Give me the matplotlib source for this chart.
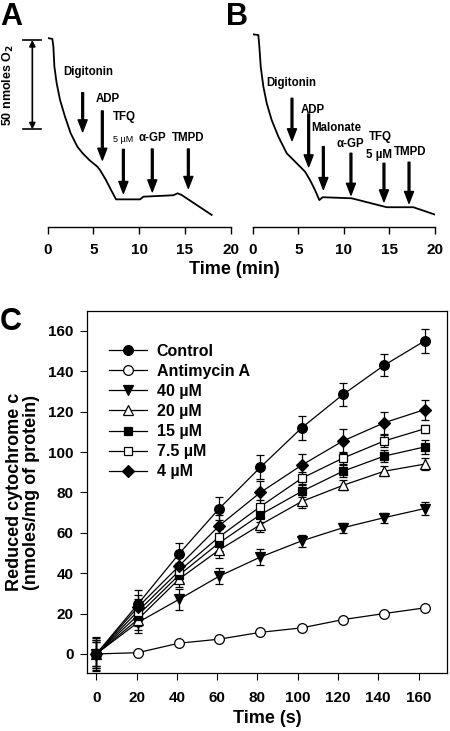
import numpy as np
import matplotlib
matplotlib.use("Agg")
import matplotlib.pyplot as plt
from matplotlib.lines import Line2D

plt.rcParams['font.family'] = ['Liberation Sans', 'DejaVu Sans']
plt.rcParams['font.weight'] = 'bold'

# ---- panel A: oxygen trace (min, nmol O2) ----
tA = [0, 0.51, 0.62, 0.73, 0.98, 1.35, 1.89, 2.51, 3.24, 3.82, 4.55, 5.43, 5.72,
      6.37, 6.93, 7.47, 10.09, 10.45, 13.73, 14.2, 14.65, 17.92]
o2A = [105.6, 105.1, 100.8, 89.6, 80.3, 70.9, 61.6, 52.3, 44.8, 41.1, 37.3, 33.6, 31.7,
       26.1, 20.5, 15.3, 15.3, 16.8, 17.6, 18.7, 17.7, 6.6]
# additions: label, time, arrow top, arrow bottom
addA = [("Digitonin", 3.82, 75.0, 53.2),
        ("ADP", 5.97, 64.8, 37.3),
        ("TFQ", 8.27, 43.3, 18.7),
        ("\u03b1-GP", 11.43, 43.5, 19.6),
        ("TMPD", 15.37, 43.5, 21.5)]

# ---- panel B ----
tB = [0, 0.62, 0.73, 0.88, 1.17, 1.54, 2.08, 2.82, 3.73, 4.83, 5.74, 6.29, 6.84,
      7.31, 7.68, 10.86, 14.7, 17.62, 20.1]
o2B = [107.7, 107.3, 100.8, 89.6, 78.4, 69.1, 59.7, 50.4, 41.1, 35.5, 30.8, 26.1, 20.5,
       14.9, 16.5, 15.9, 10.9, 10.9, 6.6]
addB = [("Digitonin", 4.31, 71.9, 48.2),
        ("ADP", 6.14, 63.1, 33.6),
        ("Malonate", 7.75, 44.8, 20.9),
        ("\u03b1-GP", 10.78, 41.1, 17.7),
        ("TFQ", 14.4, 35.5, 14.0),
        ("TMPD", 17.15, 36.1, 13.1)]

# ---- panel C: reduced cytochrome c ----
time_s = [0, 20.5, 41, 61, 81.5, 102, 122.5, 143, 163]
series = ["Control", "Antimycin A", "40 \u00b5M", "20 \u00b5M", "15 \u00b5M", "7.5 \u00b5M", "4 \u00b5M"]
control = [0, 24.5, 49.5, 72, 92.5, 112, 128.5, 143, 155]
control_err = [8.5, 7, 5.5, 5.5, 6, 6, 5.5, 5.5, 6]
antimycin = [0, 0.6, 5.3, 7.3, 10.7, 12.9, 17, 20, 22.8]
antimycin_err = [1, 0.5, 0.5, 0.5, 0.5, 0.5, 0.5, 0.5, 0.5]
tfq40 = [0, 15.5, 27, 38.5, 48, 56, 62.5, 67.5, 72]
tfq40_err = [7, 5, 5, 4, 4, 3, 2.5, 2.5, 3]
tfq20 = [0, 17, 37, 51.5, 64, 75.5, 83.5, 90.5, 94]
tfq20_err = [6, 5, 4, 4, 3.5, 3, 2.5, 2.5, 3]
tfq15 = [0, 19, 39, 55, 69, 80.5, 90.5, 98, 102.5]
tfq15_err = [6, 5, 4, 4, 3.5, 3, 3, 3, 3.5]
tfq75 = [0, 21, 41, 58, 73, 87, 97, 105.5, 111.5]
tfq75_err = [7, 6, 4, 4, 3, 3, 3, 3, 2]
tfq4 = [0, 23, 43.5, 63.5, 80, 93.5, 105.5, 114.5, 121]
tfq4_err = [8, 6, 5, 5.5, 5.5, 5.5, 6, 5.5, 5]

W, H = 450, 731
fig = plt.figure(figsize=(W / 100, H / 100), dpi=100)


def px_axes(x0, y0, x1, y1):
    return fig.add_axes([x0 / W, 1 - y1 / H, (x1 - x0) / W, (y1 - y0) / H])


def trace_panel(ax, t, o2, adds):
    ax.plot(t, o2, color='k', lw=1.3)
    for name, tt, ytop, ybot in adds:
        ax.annotate('', xy=(tt, ybot), xytext=(tt, ytop),
                    arrowprops=dict(width=1.3, headwidth=6.5, headlength=8.5,
                                    shrink=0, color='k'))
    ax.set_xlim(0, 20)
    ax.set_ylim(0, 110.1)
    for s in ['left', 'right', 'top']:
        ax.spines[s].set_visible(False)
    ax.spines['bottom'].set_linewidth(1.0)
    ax.set_yticks([])
    ax.set_xticks([0, 5, 10, 15, 20])
    ax.tick_params(axis='x', direction='out', length=5, width=1.0, pad=7, labelsize=11)


axA = px_axes(47.7, 30, 230.7, 226.7)
trace_panel(axA, tA, o2A, addA)
axB = px_axes(252.7, 30, 435, 226.7)
trace_panel(axB, tB, o2B, addB)

lab_kw = dict(ha='center', va='center', fontsize=8.3, fontweight='bold')
axA.text(4.44, 86.8, "Digitonin", **lab_kw)
axA.text(6.62, 71.5, "ADP", **lab_kw)
axA.text(8.34, 61.3, "TFQ", **lab_kw)
axA.text(8.26, 48.8, "5 \u00b5M", ha='center', va='center', fontsize=6.5, fontweight='normal')
axA.text(11.4, 49.8, "\u03b1-GP", **lab_kw)
axA.text(15.37, 49.8, "TMPD", **lab_kw)

axB.text(4.2, 80.3, "Digitonin", **lab_kw)
axB.text(6.58, 65.3, "ADP", **lab_kw)
axB.text(9.22, 55.4, "Malonate", **lab_kw)
axB.text(10.75, 46.3, "\u03b1-GP", **lab_kw)
axB.text(14.04, 50.1, "TFQ", **lab_kw)
axB.text(13.86, 40.1, "5 \u00b5M", **lab_kw)
axB.text(17.26, 42.0, "TMPD", **lab_kw)

# 50 nmol scale bar
axA.annotate('', xy=(-1.68, 54.5), xytext=(-1.68, 104.5), annotation_clip=False,
             arrowprops=dict(arrowstyle='<|-|>', color='k', lw=1.2, mutation_scale=9,
                             shrinkA=0, shrinkB=0))
axA.plot([-2.73, -0.77], [104.5, 104.5], color='k', lw=1.2, clip_on=False)
axA.plot([-2.73, -0.77], [54.5, 54.5], color='k', lw=1.2, clip_on=False)
fig.text(8 / W, 1 - 85 / H, "50 nmoles O$_\\mathbf{2}$", rotation=90, ha='center', va='center',
         fontsize=9, fontweight='bold')

fig.text(234 / W, 1 - 270 / H, "Time (min)", ha='center', va='center', fontsize=13,
         fontweight='bold')

# panel C
axC = px_axes(87.3, 310.7, 446.7, 673.3)
styles = [
    (control, control_err, 'o', 'k', 7),
    (antimycin, antimycin_err, 'o', 'w', 7),
    (tfq40, tfq40_err, 'v', 'k', 7),
    (tfq20, tfq20_err, '^', 'w', 7),
    (tfq15, tfq15_err, 's', 'k', 6),
    (tfq75, tfq75_err, 's', 'w', 6),
    (tfq4, tfq4_err, 'D', 'k', 6),
]
handles = []
for name, (vals, err, m, fc, ms) in zip(series, styles):
    axC.errorbar(time_s, vals, yerr=err, marker=m, mfc=fc, mec='k', mew=0.9, ms=ms,
                 color='k', lw=0.9, elinewidth=0.9, capsize=3, capthick=0.9)
    handles.append(Line2D([], [], marker=m, mfc=fc, mec='k', mew=0.9, ms=ms,
                          color='k', lw=0.9, label=name))

axC.set_xlim(-4.5, 174)
axC.set_ylim(-9.6, 170)
axC.set_xticks(np.arange(0, 161, 20))
axC.set_yticks(np.arange(0, 161, 20))
axC.tick_params(direction='out', length=5, width=0.8, labelsize=11)
axC.tick_params(axis='x', pad=8)
axC.tick_params(axis='y', pad=5)
for s in axC.spines.values():
    s.set_linewidth(0.9)
axC.set_xlabel("Time (s)", fontsize=13, fontweight='bold', labelpad=3)
axC.set_ylabel("Reduced cytochrome c\n(nmoles/mg of protein)", fontsize=13,
               fontweight='bold', labelpad=6, linespacing=1.0)

axC.legend(handles=handles, loc='upper left', bbox_to_anchor=(0.06, 0.909), frameon=False,
           fontsize=11.5, handlelength=2.4, handletextpad=0.6, labelspacing=0.32,
           borderpad=0, borderaxespad=0)

fig.text(0 / W, 1 - 2 / H, "A", ha='left', va='top', fontsize=22, fontweight='bold')
fig.text(226 / W, 1 - 2 / H, "B", ha='left', va='top', fontsize=22, fontweight='bold')
fig.text(0 / W, 1 - 307 / H, "C", ha='left', va='top', fontsize=22, fontweight='bold')

fig.savefig("out.png", dpi=100)
